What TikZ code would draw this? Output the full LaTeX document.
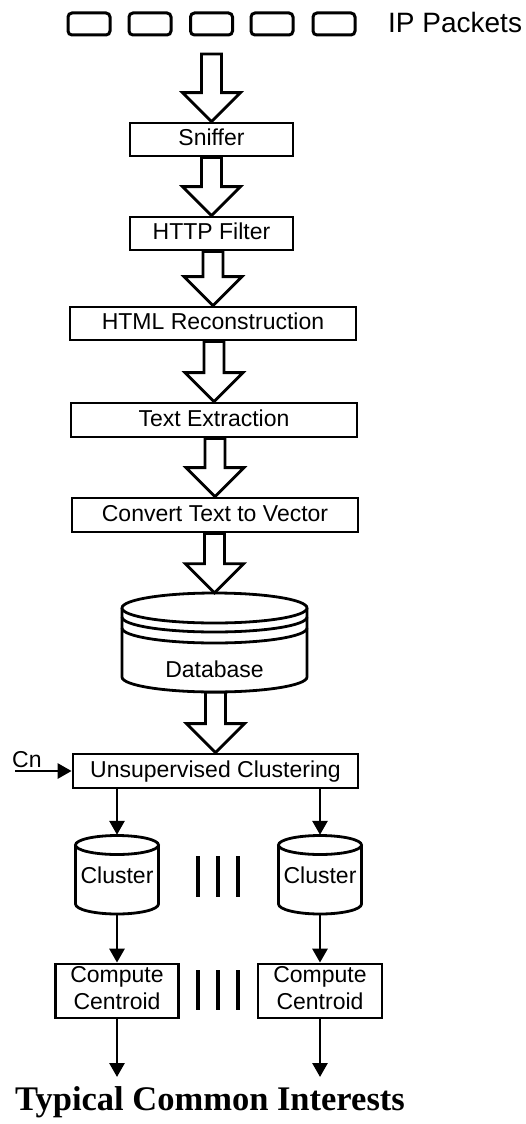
\documentclass[tikz,border=0pt]{standalone}
\usepackage{fontspec}
\setmainfont{Liberation Sans}
\newfontfamily\titlefont{Liberation Serif}
\usetikzlibrary{arrows.meta,calc}
\tikzset{
  procbox/.style={draw, line width=2.8pt, inner sep=0pt, fill=white,
    font=\fontsize{23}{27}\selectfont, text height=16pt, text depth=4pt},
  twoline/.style={draw, line width=2.8pt, inner sep=0pt, fill=white,
    font=\fontsize{23}{27}\selectfont, align=center},
  packet/.style={draw, line width=3pt, rounded corners=4pt,
    minimum width=42pt, minimum height=22pt, inner sep=0pt},
  fatarrowline/.style={draw, line width=2.8pt, fill=white, line join=miter},
  thinarrow/.style={line width=2.8pt, -{Triangle[length=14pt,width=15pt]}},
  cylline/.style={line width=2.8pt, fill=white},
  sepline/.style={line width=3.2pt},
  lbl/.style={font=\fontsize{23}{27}\selectfont, inner sep=0pt},
  holder/.style={inner sep=0pt, draw=none}
}
% hollow (outlined) block arrow from a point to a target anchor
\newcommand{\fatarrow}[2]{%
  \path[fatarrowline]
    ($(#1 -| #2)+(-10,0)$) -- ($(#2)+(-10,-29)$) -- ($(#2)+(-29,-29)$) --
    (#2) -- ($(#2)+(29,-29)$) -- ($(#2)+(10,-29)$) --
    ($(#1 -| #2)+(10,0)$) -- cycle;}
\begin{document}
\begin{tikzpicture}[x=1pt,y=-1pt]
\useasboundingbox (0,0) rectangle (525,1124);

% IP packets
\foreach \i/\x in {1/89,2/150,3/211.5,4/272,5/334}
  \node[packet] (p\i) at (\x,24) {};
\node[anchor=base west, inner sep=0pt, font=\fontsize{28}{30}\selectfont] (ip) at (388,33) {IP Packets};
\coordinate (src) at (212,54);

% process boxes
\node[procbox, minimum width=163pt, minimum height=33pt] (sn) at (211.5,139.5) {Sniffer};
\node[procbox, minimum width=163pt, minimum height=33pt] (hf) at (211.5,233.5) {HTTP Filter};
\node[procbox, minimum width=286pt, minimum height=33pt] (hr) at (213,323.5) {HTML Reconstruction};
\node[procbox, minimum width=286pt, minimum height=34pt] (te) at (214,420) {Text Extraction};
\node[procbox, minimum width=286pt, minimum height=34pt] (cv) at (215,515) {Convert Text to Vector};

% database cylinder
\node[holder, minimum width=185pt, minimum height=99pt] (db) at (214.5,642.5) {};
\path[cylline,draw] (122,608) -- (122,677)
  arc[start angle=180, end angle=0, x radius=92.5, y radius=15] -- (307,608);
\draw[cylline] (214.5,608) ellipse [x radius=92.5, y radius=15];
\draw[line width=2.8pt] (122,617) arc[start angle=180, end angle=0, x radius=92.5, y radius=15];
\draw[line width=2.8pt] (122,628) arc[start angle=180, end angle=0, x radius=92.5, y radius=15];
\node[lbl, anchor=base] (dbl) at (214.5,677) {Database};

\node[procbox, minimum width=285pt, minimum height=34pt] (uc) at (215.5,771) {Unsupervised Clustering};

% hollow arrows
\fatarrow{src}{sn.north}
\fatarrow{sn.south}{hf.north}
\fatarrow{hf.south}{hr.north}
\fatarrow{hr.south}{te.north}
\fatarrow{te.south}{cv.north}
\fatarrow{cv.south}{db.north}
\fatarrow{db.south}{uc.north}

% Cn input
\coordinate (cn) at (15,771);
\draw[thinarrow] (cn) -- (uc.west);
\node[lbl, anchor=base west] (cnl) at (12,767) {Cn};

% clusters
\foreach \n/\cx in {1/117,2/320} {
  \node[holder, minimum width=83pt, minimum height=79pt] (cl\n) at (\cx,874.5) {};
  \path[cylline,draw] (\cx-41.5,845) -- (\cx-41.5,904)
    arc[start angle=180, end angle=0, x radius=41.5, y radius=10] -- (\cx+41.5,845);
  \draw[cylline] (\cx,845) ellipse [x radius=41.5, y radius=9.5];
  \node[lbl, anchor=base] (cll\n) at (\cx,883) {Cluster};
}
\draw[thinarrow] (uc.south -| cl1.north) -- (cl1.north);
\draw[thinarrow] (uc.south -| cl2.north) -- (cl2.north);

% compute centroid
\node[twoline, minimum width=123pt, minimum height=54pt] (cc1) at (117,991) {};
\node[twoline, minimum width=124pt, minimum height=54pt] (cc2) at (320,991) {};
\node[lbl, align=center] (cct1) at (117,988) {Compute\\Centroid};
\node[lbl, align=center] (cct2) at (320,988) {Compute\\Centroid};
\draw[thinarrow] (cl1.south) -- (cc1.north);
\draw[thinarrow] (cl2.south) -- (cc2.north);

% separators
\foreach \x in {198,218,238} {
  \draw[sepline] (\x,856) -- (\x,897);
  \draw[sepline] (\x,970) -- (\x,1010);
}

% outputs
\coordinate (o1) at (117,1077);
\coordinate (o2) at (320,1077);
\draw[thinarrow] (cc1.south) -- (o1);
\draw[thinarrow] (cc2.south) -- (o2);
\node[anchor=base, inner sep=0pt, font=\titlefont\bfseries\fontsize{34.5}{37}\selectfont] (title) at (210,1110) {Typical Common Interests};
\end{tikzpicture}
\end{document}
